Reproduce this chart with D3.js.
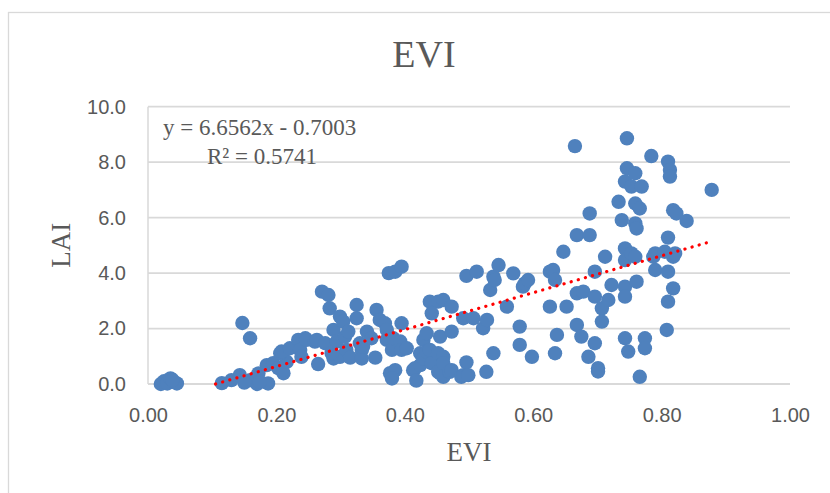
<!DOCTYPE html>
<html>
<head>
<meta charset="utf-8">
<script src="https://cdn.jsdelivr.net/npm/d3@7"></script>
<style>
  body { margin: 0; background: #fff; }
  svg { display: block; }
</style>
</head>
<body>
<svg id="chart" width="830" height="493"></svg>
<script>
// EVI (x) and LAI (y)
const evi = [
  0.020, 0.025, 0.030, 0.035, 0.040, 0.045, 0.038,
  0.115, 0.130, 0.143, 0.159, 0.172, 0.187, 0.170, 0.174, 0.150, 0.185, 0.195, 0.203, 0.211,
  0.216, 0.206, 0.208, 0.221, 0.234, 0.245, 0.147, 0.159,
  0.237, 0.239, 0.247, 0.260, 0.263, 0.265, 0.276, 0.271, 0.281, 0.283, 0.289, 0.289,
  0.294, 0.299, 0.304, 0.299, 0.309, 0.307, 0.286,
  0.312, 0.315, 0.325, 0.325, 0.330, 0.333, 0.333, 0.335, 0.341, 0.348, 0.354, 0.356,
  0.361, 0.369, 0.372, 0.372, 0.375, 0.385, 0.395, 0.377, 0.385, 0.380, 0.380, 0.382,
  0.393, 0.395, 0.395,
  0.403, 0.413, 0.416, 0.418, 0.424, 0.424, 0.429, 0.429, 0.434, 0.434, 0.439, 0.439,
  0.452, 0.442, 0.442, 0.452, 0.455, 0.455, 0.452, 0.460, 0.460, 0.460, 0.460,
  0.470, 0.473, 0.473, 0.473, 0.488, 0.491, 0.491, 0.496, 0.496, 0.499, 0.507, 0.512,
  0.522, 0.527, 0.528, 0.533, 0.538, 0.540, 0.546, 0.538,
  0.559, 0.569, 0.579, 0.579, 0.584, 0.587, 0.592, 0.598, 0.626, 0.631, 0.634, 0.626,
  0.637, 0.634, 0.647, 0.652, 0.665, 0.668, 0.668, 0.678, 0.668, 0.675, 0.686, 0.688,
  0.688, 0.696, 0.696, 0.696, 0.701, 0.701,
  0.707, 0.707, 0.712, 0.717, 0.722, 0.733, 0.738, 0.743, 0.743, 0.743, 0.743, 0.743,
  0.743, 0.746, 0.746, 0.748, 0.753, 0.753, 0.759, 0.759, 0.759, 0.759, 0.761, 0.761,
  0.766, 0.766, 0.769, 0.774, 0.774, 0.784, 0.787, 0.790, 0.790, 0.805, 0.808, 0.810,
  0.810, 0.810, 0.810, 0.813, 0.813, 0.818, 0.818, 0.818, 0.821, 0.823, 0.839, 0.878
];
const lai = [
  0.00, 0.10, 0.02, 0.20, 0.08, 0.02, 0.15,
  0.03, 0.14, 0.32, 0.14, 0.38, 0.02, 0.00, 0.08, 0.05, 0.68, 0.75, 0.57, 0.39,
  0.80, 1.11, 1.17, 1.29, 1.59, 1.65, 2.20, 1.65,
  1.23, 0.98, 1.59, 1.53, 1.59, 0.72, 1.47, 3.33, 3.21, 2.73, 1.95, 0.92,
  1.53, 2.43, 2.25, 0.98, 1.23, 1.71, 1.11,
  1.89, 0.95, 2.85, 2.37, 1.47, 1.23, 0.92, 1.35, 1.89, 1.65, 0.95, 2.67,
  2.31, 2.19, 1.59, 1.95, 4.00, 4.05, 4.23, 0.39, 0.50, 0.20, 1.23, 1.65,
  1.53, 1.23, 2.19,
  1.29, 0.50, 0.57, 0.12, 1.11, 0.68, 1.59, 0.92, 1.17, 1.83, 1.23, 2.97,
  2.97, 2.55, 0.75, 1.11, 1.71, 0.39, 0.44, 0.98, 0.75, 0.26, 3.03,
  0.44, 2.79, 1.89, 0.50, 0.26, 2.37, 0.32, 3.90, 0.78, 0.32, 2.37, 4.05,
  2.01, 0.44, 2.31, 3.39, 3.87, 3.75, 4.29, 1.11,
  2.79, 3.99, 2.07, 1.41, 3.51, 3.63, 3.75, 0.98, 4.05, 4.11, 3.75, 2.79,
  1.77, 1.11, 4.77, 2.79, 8.58, 5.37, 3.27, 3.33, 2.13, 1.71, 0.98, 6.15,
  5.37, 4.05, 3.15, 1.47, 0.57, 0.45,
  2.73, 2.25, 4.59, 3.03, 3.57, 6.57, 5.91, 7.30, 4.89, 4.47, 3.51, 3.15,
  1.65, 8.86, 7.78, 1.17, 7.12, 4.71, 7.60, 6.51, 5.79, 4.59, 5.61, 3.69,
  6.33, 0.26, 7.12, 1.65, 1.29, 8.22, 4.59, 4.71, 4.11, 4.77, 1.95, 8.02,
  5.28, 4.05, 2.97, 7.72, 7.48, 6.27, 4.59, 3.45, 4.71, 6.15, 5.88, 7.00
];
const xTicks = [0, 0.2, 0.4, 0.6, 0.8, 1.0];
const yTicks = [0, 2, 4, 6, 8, 10];
// linear trendline from the chart label
const slope = 6.6562;
const intercept = -0.7003;

const svg = d3.select("#chart");
const gridColor = "#d9d9d9";
const textColor = "#595959";

// chart area border
svg.append("rect")
  .attr("x", 8.5).attr("y", 12.5)
  .attr("width", 900).attr("height", 900)
  .attr("fill", "none")
  .attr("stroke", gridColor)
  .attr("stroke-width", 1.3);

const x = d3.scaleLinear().domain([0, 1]).range([148, 790]);
const y = d3.scaleLinear().domain([0, 10]).range([384, 106.7]);

// horizontal grid lines
svg.append("g")
  .selectAll("line")
  .data(yTicks)
  .enter().append("line")
    .attr("x1", x(0)).attr("x2", x(1))
    .attr("y1", d => y(d)).attr("y2", d => y(d))
    .attr("stroke", gridColor)
    .attr("stroke-width", 1.8);

// left axis line
svg.append("line")
  .attr("x1", x(0)).attr("x2", x(0))
  .attr("y1", y(10)).attr("y2", y(0))
  .attr("stroke", gridColor)
  .attr("stroke-width", 1.5);

// X axis labels
const xAxis = svg.append("g")
  .attr("transform", `translate(0,${y(0)})`)
  .call(d3.axisBottom(x).tickValues(xTicks).tickFormat(d3.format(".2f")).tickSize(0).tickPadding(24));
xAxis.select(".domain").remove();
xAxis.selectAll("text")
  .style("font-family", "'Liberation Sans', Arial, sans-serif")
  .style("font-size", "20px")
  .attr("fill", textColor);

// Y axis labels
const yAxis = svg.append("g")
  .attr("transform", `translate(${x(0)},0)`)
  .call(d3.axisLeft(y).tickValues(yTicks).tickFormat(d3.format(".1f")).tickSize(0).tickPadding(22));
yAxis.select(".domain").remove();
yAxis.selectAll("text")
  .style("font-family", "'Liberation Sans', Arial, sans-serif")
  .style("font-size", "20px")
  .attr("fill", textColor);

// points
const points = evi.map((v, i) => ({ x: v, y: lai[i] }));
svg.append("g")
  .selectAll("circle")
  .data(points)
  .enter().append("circle")
    .attr("cx", d => x(d.x))
    .attr("cy", d => y(d.y))
    .attr("r", 7.2)
    .attr("fill", "#4f81bd");

// trendline, clipped at LAI = 0
const xStart = -intercept / slope;
const xEnd = d3.max(evi);
svg.append("line")
  .attr("x1", x(xStart)).attr("y1", y(0))
  .attr("x2", x(xEnd)).attr("y2", y(slope * xEnd + intercept))
  .attr("stroke", "#ff0000")
  .attr("stroke-width", 3.2)
  .attr("stroke-linecap", "round")
  .attr("stroke-dasharray", "0.1 7.3");

// equation label
const serif = "'Liberation Serif', 'Times New Roman', serif";
svg.append("text")
  .attr("x", 163).attr("y", 135)
  .style("font-family", serif).style("font-size", "23px")
  .attr("fill", textColor)
  .text("y = 6.6562x - 0.7003");
svg.append("text")
  .attr("x", 207).attr("y", 164)
  .style("font-family", serif).style("font-size", "23px")
  .attr("fill", textColor)
  .text("R² = 0.5741");

// title
svg.append("text")
  .attr("x", 424).attr("y", 67)
  .attr("text-anchor", "middle")
  .style("font-family", serif).style("font-size", "38px")
  .attr("fill", textColor)
  .text("EVI");

// axis titles
svg.append("text")
  .attr("x", (x(0) + x(1)) / 2).attr("y", 461)
  .attr("text-anchor", "middle")
  .style("font-family", serif).style("font-size", "27px")
  .attr("fill", textColor)
  .text("EVI");

svg.append("text")
  .attr("transform", `translate(70,${(y(0) + y(10)) / 2}) rotate(-90)`)
  .attr("text-anchor", "middle")
  .style("font-family", serif).style("font-size", "27px")
  .attr("fill", textColor)
  .text("LAI");
</script>
</body>
</html>
